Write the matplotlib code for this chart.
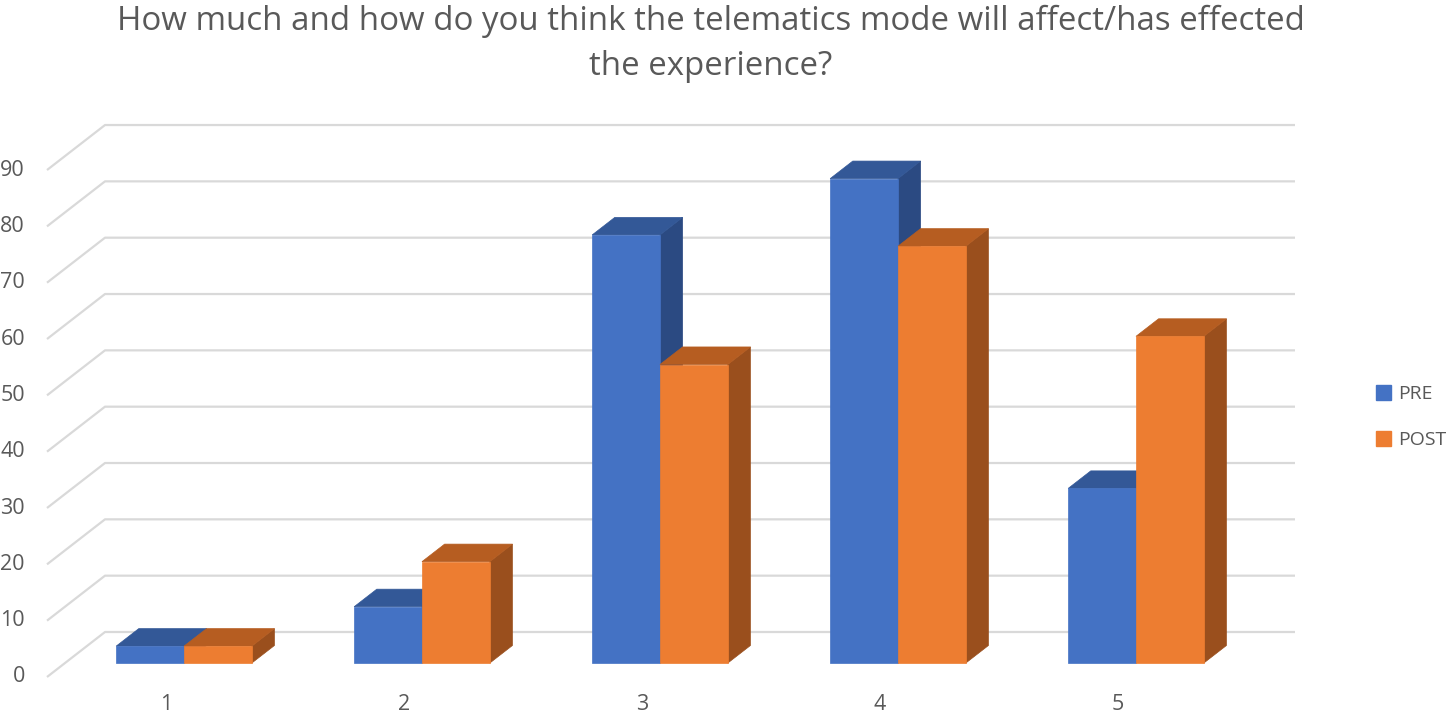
import matplotlib.pyplot as plt
from matplotlib.patches import Polygon, Patch

categories = ['1', '2', '3', '4', '5']
pre = [3, 10, 76, 86, 31]
post = [3, 18, 53, 74, 58]
series_names = ['PRE', 'POST']
ticks = [0, 10, 20, 30, 40, 50, 60, 70, 80, 90]
title = 'How much and how do you think the telematics mode will affect/has effected\nthe experience?'

# colours for front / top / side faces
faces = {
    'PRE': ('#4472C4', '#335897', '#2B4A82'),
    'POST': ('#ED7D31', '#B65D21', '#9A4F1D'),
}

plt.rcParams['font.family'] = ['Open Sans', 'DejaVu Sans']

W, H = 1449, 716
fig = plt.figure(figsize=(W / 100, H / 100), dpi=100)
ax = fig.add_axes([0, 0, 1, 1])

# pixel anchors: front floor at y=677, 5.633 px per unit, 238 px per category
px_per_cat = 238.0
px_per_val = 5.633
x0_px = 47.0
y0_px = 677.0
ax.set_xlim(0.5 - x0_px / px_per_cat, 0.5 + (W - x0_px) / px_per_cat)
ax.set_ylim(-(H - y0_px) / px_per_val, y0_px / px_per_val)
ax.axis('off')

# full depth of the floor, in data units
DX = 58 / px_per_cat
DY = 45 / px_per_val
n = len(categories)
grid_col = '#D9D9D9'

for t in ticks:
    ax.plot([0.5, 0.5 + DX, n + 0.5 + DX], [t, t + DY, t + DY],
            color=grid_col, lw=1.6, zorder=1, solid_capstyle='butt')
    ax.text(0.5 - 22 / px_per_cat, t, str(t), ha='right', va='center',
            fontsize=15.5, color='#595959')

bar_w = 0.285
d_front, d_back = 0.31, 0.70


def draw_bar(xl, v, cols, z):
    xr = xl + bar_w
    fx, fy = d_front * DX, d_front * DY
    bx, by = d_back * DX, d_back * DY
    front = [(xl + fx, fy), (xr + fx, fy), (xr + fx, v + fy), (xl + fx, v + fy)]
    top = [(xl + fx, v + fy), (xr + fx, v + fy), (xr + bx, v + by), (xl + bx, v + by)]
    side = [(xr + fx, fy), (xr + bx, by), (xr + bx, v + by), (xr + fx, v + fy)]
    ax.add_patch(Polygon(side, closed=True, fc=cols[2], ec=cols[2], lw=0.5, zorder=z))
    ax.add_patch(Polygon(top, closed=True, fc=cols[1], ec=cols[1], lw=0.5, zorder=z))
    ax.add_patch(Polygon(front, closed=True, fc=cols[0], ec=cols[0], lw=0.5, zorder=z + 0.1))


for i, cat in enumerate(categories):
    c = i + 1
    draw_bar(c - bar_w, pre[i], faces['PRE'], 2 + i)
    draw_bar(c, post[i], faces['POST'], 2.5 + i)
    ax.text(c, -4.97, cat, ha='center', va='center', fontsize=15.5, color='#595959')

fig.text(711 / W, 1 - 44 / H, title, ha='center', va='center', fontsize=23.8,
         color='#595959', linespacing=1.5)

handles = [Patch(color=faces[s][0], label=s) for s in series_names]
fig.legend(handles=handles, loc='center left', bbox_to_anchor=(1358 / W, 1 - 417 / H),
           frameon=False, fontsize=14, handlelength=0.8, handleheight=0.8,
           handletextpad=0.35, labelspacing=1.45, labelcolor='#595959')

fig.savefig('out.png', dpi=100)
